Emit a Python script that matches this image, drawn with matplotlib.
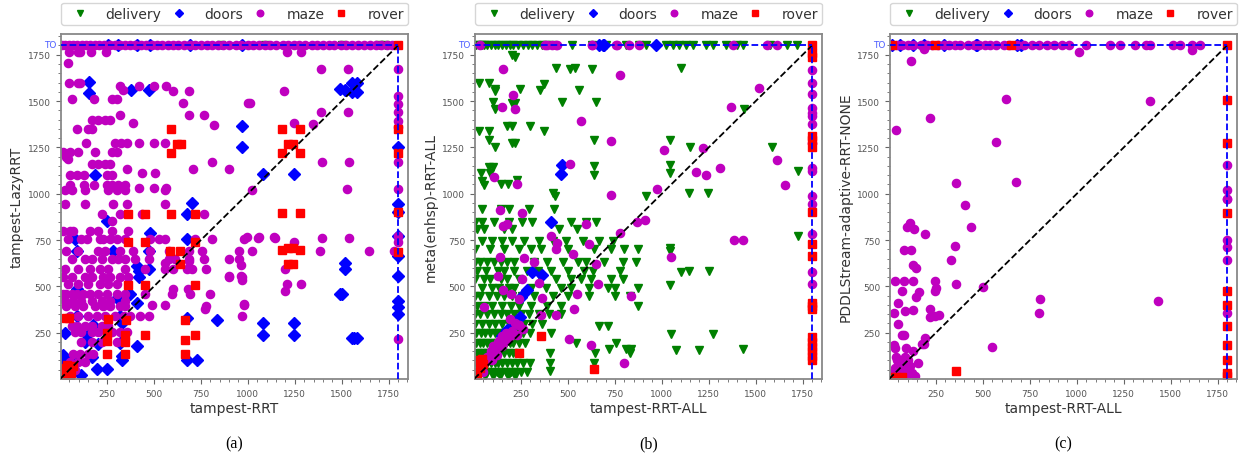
import matplotlib.pyplot as plt
import matplotlib.transforms as mtransforms
import numpy as np

TIMEOUT = 1800
domains = ["delivery", "doors", "maze", "rover"]
markers = {"delivery": "v", "doors": "D", "maze": "o", "rover": "s"}
colors = {"delivery": "g", "doors": "b", "maze": "m", "rover": "r"}

# ---------------- panel (a): tampest-RRT vs tampest-LazyRRT ----------------
# x positions of runs where only the y planner timed out (y = TO)
a_delivery_to_x = [857, 1090, 1500, 1700, 1730]
a_doors_to_x = [257, 311, 412, 477, 690, 970]
a_maze_to_x = [8, 25, 45, 70, 90, 115, 140, 160, 185, 210, 235, 265, 290, 320,
               345, 375, 400, 430, 460, 490, 515, 545, 575, 600, 630, 660, 690,
               720, 750, 780, 810, 840, 870, 900, 935, 965, 1000, 1030, 1060,
               1090, 1120, 1150, 1185, 1215, 1245, 1275, 1305, 1340, 1370, 1400,
               1430, 1460, 1495, 1525, 1555, 1585, 1620, 1650, 1680, 1710, 1740,
               1770]
a_rover_to_x = [1800]
# y positions of runs where only the x planner timed out (x = TO)
a_doors_to_y = [1250, 942, 899, 771, 663, 555, 420, 388, 350]
a_maze_to_y = [1672, 1526, 1484, 1441, 1392, 1360, 1170, 1025, 771, 742, 214]
a_rover_to_y = [1347, 1218, 899, 688]

a_maze = [(48, 1765), (96, 1765), (105, 1765), (163, 1765), (245, 1765), (1209, 1765),
          (1285, 1765), (43, 1706), (48, 1600), (96, 1600), (105, 1600), (320, 1582),
          (418, 1582), (498, 1582), (564, 1582), (337, 1558), (601, 1553), (686, 1553),
          (1195, 1553), (66, 1510), (182, 1510), (275, 1510), (305, 1510), (653, 1488),
          (1001, 1488), (1012, 1488), (320, 1423), (686, 1423), (766, 1423), (1388, 1441),
          (1535, 1441), (1389, 1672), (1535, 1672), (168, 1398), (204, 1398), (239, 1398),
          (266, 1398), (391, 1380), (820, 1371), (1244, 1382), (1345, 1375), (88, 1351),
          (150, 1351), (168, 1351), (138, 1272), (293, 1272), (323, 1272), (359, 1272),
          (418, 1272), (498, 1272), (561, 1272), (16, 1225), (52, 1225), (96, 1225),
          (186, 1225), (275, 1225), (302, 1225), (30, 1200), (43, 1190), (168, 1159),
          (204, 1159), (239, 1159), (266, 1159), (807, 1171), (1393, 1171), (1541, 1171),
          (900, 1132), (709, 1132), (355, 1132), (436, 1114), (507, 1114), (55, 1099),
          (91, 1099), (129, 1099), (248, 1099), (275, 1099), (55, 1045), (55, 1030),
          (129, 1045), (182, 1045), (248, 1045), (275, 1045), (311, 1045), (346, 1045),
          (418, 1030), (498, 1030), (564, 1030), (1526, 1024), (1023, 1020), (25, 1018),
          (61, 1018), (132, 1018), (257, 1018), (302, 1018), (346, 1018), (560, 1018),
          (25, 943), (132, 943), (284, 943), (355, 943), (560, 943), (221, 888), (320, 888),
          (436, 888), (766, 888), (275, 853), (16, 799), (52, 799), (70, 799), (159, 799),
          (204, 799), (275, 799), (364, 799), (43, 754), (114, 754), (141, 754), (213, 754),
          (230, 754), (266, 754), (302, 754), (346, 754), (480, 754), (525, 754), (560, 754),
          (721, 754), (810, 754), (980, 754), (996, 765), (1059, 765), (1139, 765),
          (1053, 763), (1143, 763), (1244, 737), (1393, 763), (1541, 763), (34, 691),
          (96, 691), (204, 691), (239, 691), (320, 691), (391, 691), (480, 691), (578, 691),
          (685, 691), (757, 691), (953, 691), (1021, 691), (1384, 691), (1643, 691),
          (1776, 691), (61, 646), (132, 646), (168, 646), (221, 646), (275, 646), (311, 646),
          (346, 646), (400, 646), (471, 646), (578, 646), (614, 646), (685, 646), (766, 646),
          (900, 646), (953, 646), (687, 637), (559, 628), (964, 615), (1196, 592), (25, 592),
          (96, 592), (159, 592), (213, 592), (257, 592), (346, 592), (453, 592), (560, 592),
          (677, 592), (775, 592), (705, 592), (601, 592), (16, 548), (61, 548), (132, 548),
          (168, 548), (230, 548), (266, 548), (320, 548), (364, 548), (900, 548), (967, 548),
          (898, 556), (964, 556), (970, 537), (43, 511), (96, 511), (150, 511), (213, 511),
          (257, 511), (302, 511), (1209, 511), (1285, 511), (1196, 476), (601, 484),
          (684, 484), (16, 457), (34, 457), (61, 457), (88, 457), (123, 457), (159, 457),
          (204, 457), (248, 457), (302, 457), (346, 457), (453, 457), (596, 457), (694, 457),
          (801, 457), (25, 421), (70, 421), (114, 421), (168, 421), (221, 421), (266, 421),
          (346, 421), (981, 403), (34, 394), (79, 394), (123, 394), (186, 394), (230, 394),
          (266, 394), (320, 394), (346, 394), (489, 399), (559, 399), (775, 394), (980, 399),
          (771, 376), (52, 340), (96, 340), (150, 340), (195, 340), (239, 340), (293, 340),
          (338, 340), (373, 340), (427, 340), (471, 340), (971, 340), (61, 288), (88, 288),
          (132, 288), (168, 288), (221, 288), (257, 288), (79, 252), (114, 252), (168, 252),
          (204, 252), (275, 252), (320, 252), (355, 252), (114, 197), (168, 197), (221, 197),
          (302, 197), (70, 133), (105, 133), (150, 133), (177, 133), (52, 90), (96, 90),
          (132, 90), (20, 60), (40, 40), (60, 80), (80, 50), (30, 20)]
a_doors = [(154, 1605), (154, 1546), (377, 1558), (471, 1558), (186, 1099), (968, 1366),
           (971, 1254), (1490, 1564), (1520, 1560), (1553, 1600), (1580, 1600), (1553, 1547),
           (1580, 1547), (1080, 1105), (1244, 1105), (1516, 628), (1516, 596), (1490, 457),
           (1500, 457), (1080, 300), (1244, 300), (1080, 240), (1244, 240), (1553, 219),
           (1580, 219), (1565, 219), (703, 950), (677, 888), (248, 853), (480, 786), (79, 754),
           (677, 754), (88, 691), (284, 691), (471, 691), (409, 610), (418, 582), (471, 595),
           (418, 552), (88, 484), (311, 445), (373, 460), (311, 430), (409, 410), (88, 340),
           (320, 340), (677, 330), (837, 320), (177, 290), (329, 300), (25, 250), (141, 240),
           (132, 200), (204, 190), (320, 195), (409, 180), (16, 130), (168, 120), (329, 125),
           (677, 100), (730, 100), (329, 100), (195, 52), (248, 52), (114, 20), (20, 80),
           (60, 110)]
a_rover = [(591, 1351), (625, 1267), (645, 1267), (591, 1218), (1182, 1351), (1280, 1351),
           (1214, 1267), (1241, 1267), (1182, 1218), (1280, 1218), (1182, 898), (1280, 898),
           (1182, 696), (1214, 709), (1241, 709), (1280, 696), (1214, 619), (1241, 619),
           (364, 888), (450, 888), (591, 888), (718, 888), (364, 738), (450, 738), (718, 738),
           (587, 691), (641, 691), (641, 619), (364, 508), (450, 508), (718, 508), (29, 331),
           (45, 331), (257, 325), (350, 320), (664, 320), (248, 250), (346, 240), (450, 235),
           (718, 240), (248, 205), (346, 200), (664, 210), (248, 135), (346, 135), (664, 135),
           (10, 10), (20, 25), (30, 40), (40, 15), (50, 55), (60, 30), (15, 60), (70, 70),
           (35, 75), (55, 10)]

# ---------------- panel (b): tampest-RRT-ALL vs meta(enhsp)-RRT-ALL ----------------
b_delivery_to_x = [10, 25, 40, 55, 70, 90, 110, 130, 150, 170, 190, 210, 235, 260, 285,
                   310, 335, 360, 385, 416, 523, 630, 701, 809, 880, 916, 1023, 1059,
                   1094, 1130, 1166, 1237, 1273, 1344, 1398, 1434, 1577, 1666, 1719]
b_doors_to_x = [666, 686, 692, 969]
b_maze_to_x = [30, 380, 391, 416, 435, 443, 627, 630, 755, 761, 827, 880, 1380, 1559, 1612]
b_rover_to_x = [1800]
b_maze_to_y = [1668, 1600, 1537, 1465, 1438, 1420, 1375, 1276, 1141, 1123, 988, 943, 781,
               577, 511]
b_rover_to_y = [1760, 1740, 1310, 1290, 1250, 900, 727, 664, 412, 394, 376, 225, 200,
                175, 150, 125, 100]

b_delivery = [(200, 1747), (217, 1740), (435, 1681), (512, 1675), (537, 1681), (627, 1675),
              (1103, 1681), (25, 1596), (78, 1596), (110, 1567), (110, 1555), (243, 1567),
              (350, 1558), (373, 1594), (557, 1561), (102, 1495), (114, 1456), (200, 1487),
              (217, 1487), (466, 1495), (650, 1495), (1437, 1459), (25, 1339), (78, 1339),
              (177, 1366), (200, 1366), (296, 1366), (373, 1339), (78, 1288), (110, 1254),
              (200, 1276), (217, 1276), (641, 1291), (1044, 1290), (1152, 1254), (1585, 1254),
              (78, 1146), (102, 1146), (39, 1110), (87, 1110), (43, 1069), (51, 1045),
              (146, 1051), (182, 1051), (227, 1074), (641, 1150), (641, 1101), (1044, 1155),
              (1044, 1110), (1725, 1123), (421, 1002), (430, 988), (918, 988), (1144, 1002),
              (1246, 1002), (43, 916), (141, 916), (185, 916), (292, 916), (426, 916), (7, 850),
              (43, 850), (105, 850), (185, 850), (257, 850), (311, 850), (516, 850), (596, 850),
              (650, 850), (18, 808), (54, 808), (157, 808), (200, 808), (450, 808), (548, 808),
              (43, 745), (96, 745), (150, 745), (204, 745), (266, 745), (346, 745), (418, 745),
              (489, 745), (578, 745), (667, 745), (739, 745), (1725, 772), (5, 700), (87, 700),
              (159, 700), (239, 700), (302, 700), (355, 700), (498, 700), (641, 700), (730, 700),
              (801, 700), (873, 700), (1041, 705), (1041, 691), (7, 630), (34, 630), (70, 630),
              (105, 630), (141, 630), (177, 630), (212, 630), (319, 630), (391, 630), (471, 630),
              (552, 630), (596, 630), (694, 630), (793, 630), (864, 630), (18, 583), (63, 583),
              (125, 583), (159, 583), (212, 583), (284, 583), (338, 583), (409, 583), (498, 583),
              (587, 583), (632, 583), (775, 583), (1103, 577), (1144, 583), (1250, 583),
              (7, 538), (52, 538), (87, 538), (141, 538), (177, 538), (239, 538), (355, 538),
              (436, 538), (516, 538), (570, 538), (623, 538), (730, 538), (793, 538), (43, 493),
              (96, 493), (132, 493), (185, 493), (212, 493), (302, 493), (382, 493), (462, 493),
              (516, 493), (614, 493), (712, 493), (748, 493), (873, 493), (1041, 505), (5, 448),
              (34, 448), (79, 448), (123, 448), (159, 448), (204, 448), (257, 448), (319, 448),
              (418, 448), (498, 448), (614, 448), (748, 448), (828, 448), (18, 394), (54, 394),
              (96, 394), (150, 394), (195, 394), (239, 394), (302, 394), (391, 394), (462, 394),
              (873, 394), (5, 349), (34, 349), (70, 349), (105, 349), (141, 349), (177, 349),
              (212, 349), (248, 349), (293, 349), (346, 349), (400, 349), (462, 349), (7, 295),
              (43, 295), (79, 295), (114, 295), (150, 295), (186, 295), (221, 295), (266, 295),
              (311, 295), (364, 295), (668, 286), (712, 286), (10, 250), (35, 250), (60, 250),
              (85, 250), (110, 250), (135, 250), (160, 250), (185, 250), (210, 250), (235, 250),
              (260, 250), (300, 250), (409, 250), (1050, 241), (1273, 241), (10, 196), (30, 196),
              (50, 196), (70, 196), (90, 196), (110, 196), (130, 196), (150, 196), (170, 196),
              (190, 196), (210, 196), (240, 196), (270, 196), (543, 196), (757, 196), (719, 160),
              (809, 160), (836, 160), (1073, 156), (1198, 156), (1434, 163), (15, 142), (35, 142),
              (55, 142), (75, 142), (95, 142), (115, 142), (135, 142), (160, 142), (185, 142),
              (210, 142), (240, 142), (407, 142), (644, 142), (828, 142), (10, 88), (30, 88),
              (50, 88), (70, 88), (90, 88), (110, 88), (130, 88), (150, 88), (175, 88), (200, 88),
              (230, 88), (260, 88), (300, 88), (407, 88), (639, 88), (20, 40), (45, 40), (70, 40),
              (95, 40), (120, 40), (145, 40), (170, 40), (195, 40), (220, 40), (250, 40),
              (280, 40), (407, 43), (5, 15), (25, 15), (60, 15), (100, 15), (140, 15), (180, 15),
              (220, 15)]
b_maze = [(153, 1675), (778, 1639), (207, 1531), (150, 1470), (217, 1459), (569, 1391),
          (730, 1285), (510, 1159), (105, 1090), (227, 1054), (730, 991), (975, 1027),
          (1014, 1234), (1180, 1117), (1237, 1099), (1219, 1245), (1308, 1141), (1367, 1468),
          (1519, 1573), (1612, 1180), (1657, 1045), (137, 910), (257, 898), (177, 835),
          (155, 826), (596, 835), (412, 772), (441, 736), (614, 727), (775, 790), (868, 847),
          (908, 858), (435, 700), (137, 660), (266, 655), (319, 633), (525, 673), (650, 623),
          (128, 556), (253, 541), (346, 516), (153, 478), (198, 461), (364, 435), (548, 461),
          (659, 511), (834, 448), (51, 388), (239, 430), (534, 376), (355, 343), (436, 343),
          (194, 325), (239, 289), (507, 214), (623, 181), (801, 88), (1050, 660), (1385, 750),
          (1430, 750), (200, 260), (230, 240), (180, 220), (150, 230), (130, 200), (100, 180),
          (90, 150), (70, 120), (60, 90), (40, 70), (30, 50), (20, 30), (110, 150), (150, 180),
          (80, 110), (50, 40), (140, 210), (170, 250), (220, 300), (240, 290), (260, 270),
          (120, 130), (95, 100), (160, 200), (190, 230)]
b_doors = [(468, 1153), (462, 1108), (409, 847), (307, 577), (364, 559), (280, 480),
           (252, 444), (244, 336), (177, 262), (150, 232), (190, 270)]
b_rover = [(359, 232), (239, 142), (637, 52), (20, 100), (40, 110), (30, 60), (10, 40),
           (50, 80), (15, 15)]

# ---------------- panel (c): tampest-RRT-ALL vs PDDLStream-adaptive-RRT-NONE ----------------
c_doors_to_x = [14, 59, 130, 184, 291, 461, 470, 684, 702]
c_maze_to_x = [10, 40, 70, 100, 130, 170, 200, 230, 260, 290, 320, 350, 380, 420, 450,
               480, 510, 540, 570, 610, 640, 680, 720, 760, 800, 840, 880, 920, 960, 1050,
               1175, 1228, 1309, 1371, 1389, 1514, 1550, 1612, 1657]
c_rover_to_x = [14, 246, 648, 1800]
c_maze_to_y = [1155, 1018, 973, 970, 750, 714, 642, 358]
c_rover_to_y = [1504, 1272, 898, 475, 399, 286, 181, 100, 34, 16]

c_maze = [(184, 1780), (1014, 1766), (1612, 1775), (118, 1717), (625, 1510), (1389, 1501),
          (220, 1411), (37, 1342), (571, 1279), (354, 1060), (675, 1065), (407, 939),
          (439, 822), (112, 840), (94, 822), (135, 811), (193, 784), (77, 696), (118, 696),
          (350, 718), (330, 640), (126, 615), (145, 597), (32, 528), (82, 528), (130, 528),
          (246, 528), (354, 515), (500, 495), (250, 490), (245, 475), (71, 475), (162, 469),
          (145, 442), (46, 408), (86, 367), (126, 372), (27, 354), (216, 380), (219, 336),
          (246, 340), (264, 343), (800, 358), (805, 430), (1433, 421), (46, 298), (71, 235),
          (82, 237), (28, 183), (193, 223), (184, 187), (175, 190), (89, 165), (550, 174),
          (29, 170), (130, 151), (152, 84), (36, 118), (54, 88), (77, 79), (14, 34), (50, 25),
          (103, 43), (139, 16), (87, 120), (103, 100), (68, 70), (110, 70), (60, 50), (30, 60),
          (120, 30), (95, 20), (40, 100)]
c_rover = [(359, 43), (14, 10), (50, 8), (35, 12), (70, 10)]


def collect(body=(), to_x=(), to_y=()):
    pts = list(body) + [(x, TIMEOUT) for x in to_x] + [(TIMEOUT, y) for y in to_y]
    if not pts:
        return np.array([]), np.array([])
    arr = np.array(pts, dtype=float)
    return arr[:, 0], arr[:, 1]


panels = [
    {
        "xlabel": "tampest-RRT",
        "ylabel": "tampest-LazyRRT",
        "caption": "(a)",
        "series": {
            "delivery": collect((), a_delivery_to_x),
            "doors": collect(a_doors, a_doors_to_x, a_doors_to_y),
            "maze": collect(a_maze, a_maze_to_x, a_maze_to_y),
            "rover": collect(a_rover, a_rover_to_x, a_rover_to_y),
        },
        "rect": [61, 347],
    },
    {
        "xlabel": "tampest-RRT-ALL",
        "ylabel": "meta(enhsp)-RRT-ALL",
        "caption": "(b)",
        "series": {
            "delivery": collect(b_delivery, b_delivery_to_x),
            "doors": collect(b_doors, b_doors_to_x),
            "maze": collect(b_maze, b_maze_to_x, b_maze_to_y),
            "rover": collect(b_rover, b_rover_to_x, b_rover_to_y),
        },
        "rect": [475, 347],
    },
    {
        "xlabel": "tampest-RRT-ALL",
        "ylabel": "PDDLStream-adaptive-RRT-NONE",
        "caption": "(c)",
        "series": {
            "delivery": collect(),
            "doors": collect((), c_doors_to_x),
            "maze": collect(c_maze, c_maze_to_x, c_maze_to_y),
            "rover": collect(c_rover, c_rover_to_x, c_rover_to_y),
        },
        "rect": [890, 347],
    },
]

W, H = 1241, 456
fig = plt.figure(figsize=(W / 100, H / 100), dpi=100)
ax_top, ax_bottom = 35, 380

for p in panels:
    left_px, width_px = p["rect"]
    ax = fig.add_axes([left_px / W, 1 - ax_bottom / H, width_px / W, (ax_bottom - ax_top) / H])
    for name in domains:
        x, y = p["series"][name]
        ax.plot(x, y, linestyle="none", marker=markers[name], color=colors[name],
                ms=5.9 if name != "doors" else 5.7, label=name, zorder=2)
    # diagonal and timeout lines
    ax.plot([0, TIMEOUT], [0, TIMEOUT], "k--", lw=1.3, zorder=3)
    ax.plot([0, TIMEOUT], [TIMEOUT, TIMEOUT], color="b", linestyle="--", lw=1.3, zorder=3)
    ax.plot([TIMEOUT, TIMEOUT], [0, TIMEOUT], color="b", linestyle="--", lw=1.3, zorder=3)

    ax.set_xlim(5, 1853)
    ax.set_ylim(0, 1862)
    ticks = [250, 500, 750, 1000, 1250, 1500, 1750]
    ax.set_xticks(ticks)
    ax.set_yticks(ticks)
    ax.set_xticks(np.arange(50, 1851, 50), minor=True)
    ax.set_yticks(np.arange(50, 1851, 50), minor=True)
    ax.tick_params(which="major", labelsize=6.5, labelcolor="#555555", color="#666666",
                   length=3.5, width=0.8)
    ax.tick_params(which="minor", color="#666666", length=2, width=0.6)
    for s in ax.spines.values():
        s.set_color("#888888")
        s.set_linewidth(1.3)

    trans = mtransforms.blended_transform_factory(ax.transAxes, ax.transData)
    ax.text(-0.012, TIMEOUT + 5, "TO", transform=trans, ha="right", va="center",
            fontsize=6.5, color="#4a5cff")

    ax.set_xlabel(p["xlabel"], fontsize=10, color="#333333", labelpad=2)
    ax.set_ylabel(p["ylabel"], fontsize=10, color="#333333", labelpad=3)

    leg = ax.legend(loc="lower left", bbox_to_anchor=(0.0, 1.026, 1.0, 0.058),
                    mode="expand", ncol=4, borderaxespad=0, fontsize=10,
                    handlelength=2.1, handletextpad=0.82, columnspacing=0.17,
                    markerscale=0.8, borderpad=0.3, frameon=True)
    for t in leg.get_texts():
        t.set_color("#333333")

    fig.text((left_px + width_px / 2) / W, 1 - 444 / H, p["caption"], ha="center",
             va="center", fontsize=11.5, family="Liberation Serif")

fig.savefig("out.png", dpi=100)
